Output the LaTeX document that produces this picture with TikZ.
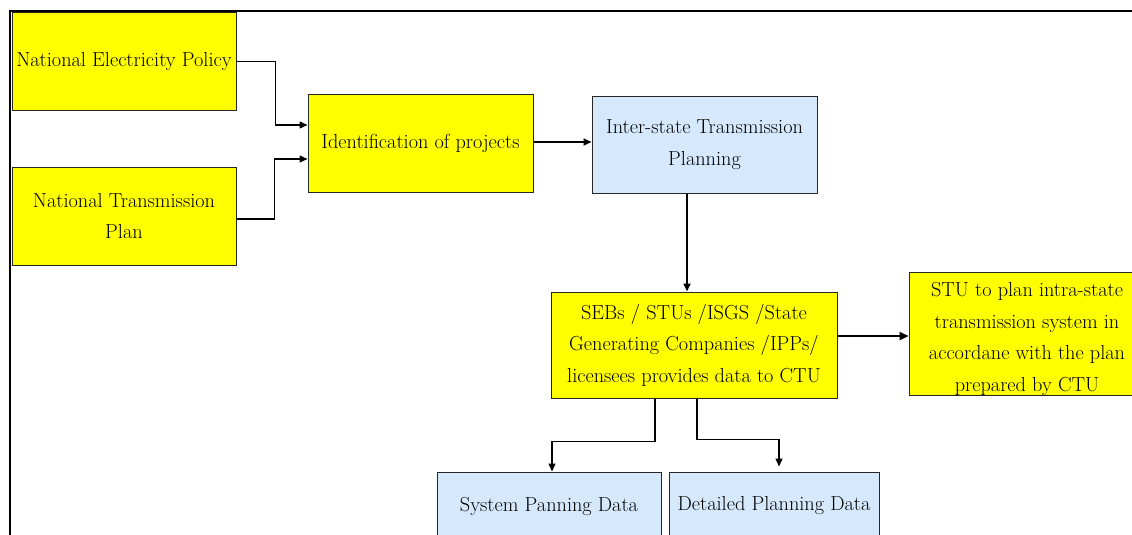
\documentclass[tikz,border=0pt]{standalone}
\usetikzlibrary{arrows.meta}
\definecolor{boxyellow}{RGB}{255,255,0}
\definecolor{boxblue}{RGB}{213,232,252}
\tikzset{
  boxfont/.style={font=\fontsize{20.3}{31.5}\selectfont, align=center, inner sep=0pt},
  box/.style={boxfont, draw=black!85, line width=1pt},
  ybox/.style={box, fill=boxyellow},
  bbox/.style={box, fill=boxblue},
  arr/.style={-{Triangle[length=8pt,width=7pt]}, line width=1.3pt},
  thickarr/.style={-{Triangle[length=8pt,width=7pt]}, line width=2pt},
}
\begin{document}
\begin{tikzpicture}[x=1pt, y=-1pt]
\useasboundingbox (0,0) rectangle (1132,535);
\clip (0,0) rectangle (1132,535);

% outer frame
\draw[line width=2pt] (10,540) -- (10,11) -- (1140,11);

% boxes
\node[ybox, minimum width=224pt, minimum height=97pt] (nep) at (124,61.5) {National Electricity Policy};
\node[ybox, minimum width=224pt, minimum height=98pt] (ntp) at (124,216) {National Transmission\\Plan};
\node[ybox, minimum width=225pt, minimum height=98pt] (idp) at (420.5,143) {Identification of projects};
\node[bbox, minimum width=225pt, minimum height=97pt] (itp) at (704.5,144.5) {Inter-state Transmission\\Planning};
\node[ybox, minimum width=286pt, minimum height=106pt] (seb) at (694,345) {SEBs / STUs /ISGS /State\\Generating Companies /IPPs/\\licensees provides data to CTU};
\node[ybox, minimum width=236pt, minimum height=123pt] (stu) at (1027,333.5) {};
\node[boxfont] (stutext) at ([yshift=-5.5pt]stu.center) {STU to plan intra-state\\transmission system in\\accordane with the plan\\prepared by CTU};
\node[bbox, minimum width=224pt, minimum height=68pt] (spd) at (549,506) {System Panning Data};
\node[bbox, minimum width=210pt, minimum height=68pt] (dpd) at (774,506) {Detailed Planning Data};

% connectors
\draw[arr] (nep.east) -- ++(39pt,0) |- ([yshift=18pt]idp.west);
\draw[arr] ([yshift=-3pt]ntp.east) -- ++(38pt,0) |- ([yshift=-16pt]idp.west);
\draw[thickarr] ([yshift=1pt]idp.east) -- ([yshift=2.5pt]itp.west);
\draw[thickarr] ([xshift=-17.5pt]itp.south) -- ([xshift=-7pt]seb.north);
\draw[-{Triangle[length=9pt,width=8pt]}, line width=2.5pt] ([yshift=9pt]seb.east) -- ([yshift=-2.5pt]stu.west);
\draw[arr] ([xshift=-39pt]seb.south) -- ++(0,-43pt) -| ([xshift=3pt]spd.north);
\draw[arr, shorten >=5pt] ([xshift=3pt]seb.south) -- ++(0,-41pt) -| ([xshift=5pt]dpd.north);
\end{tikzpicture}
\end{document}
